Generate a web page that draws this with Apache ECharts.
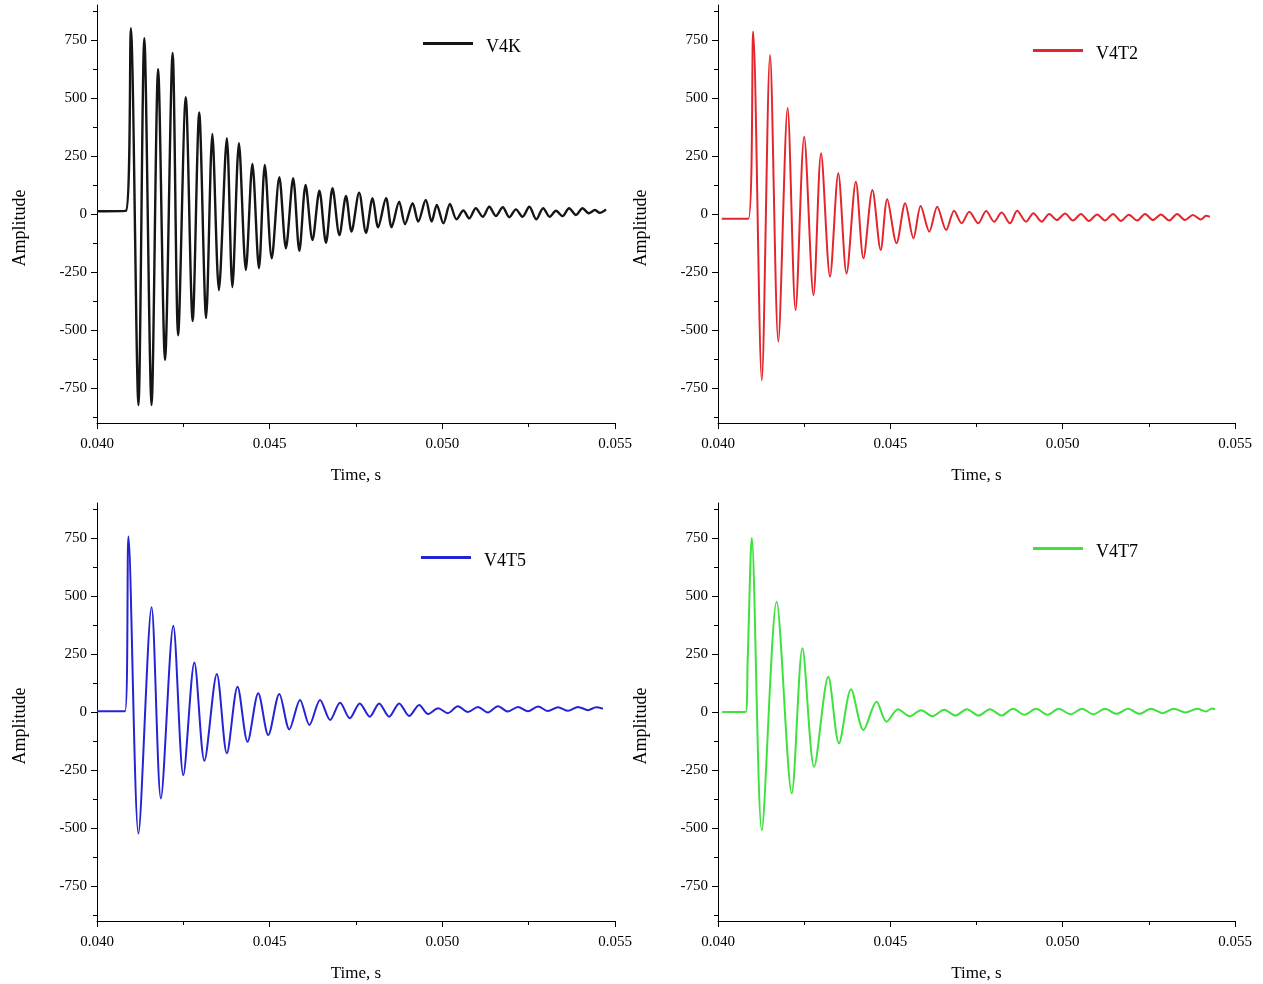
<!DOCTYPE html>
<html>
<head>
<meta charset="utf-8">
<script src="https://cdn.jsdelivr.net/npm/echarts@6/dist/echarts.min.js"></script>
<style>
html,body{margin:0;padding:0;background:#fff;}
#chart{width:1263px;height:984px;}
</style>
</head>
<body>
<div id="chart"></div>
<script>
// ---- data (time in s, amplitude) ----
const seriesNames = ['V4K', 'V4T2', 'V4T5', 'V4T7'];
const seriesColors = ['#151515', '#e4262c', '#2424d4', '#3ee23e'];

const v4kTime = [0.04000,0.04084,0.04098,0.04120,0.04137,0.04158,0.04177,0.04197,0.04219,0.04235,0.04257,0.04277,0.04296,0.04316,0.04334,0.04353,0.04376,0.04392,0.04411,0.04431,0.04450,0.04469,0.04486,0.04506,0.04528,0.04547,0.04568,0.04586,0.04604,0.04624,0.04644,0.04663,0.04682,0.04702,0.04721,0.04737,0.04759,0.04779,0.04798,0.04814,0.04837,0.04853,0.04875,0.04892,0.04914,0.04930,0.04952,0.04969,0.04984,0.05003,0.05022,0.05041,0.05061,0.05078,0.05097,0.05117,0.05136,0.05155,0.05175,0.05194,0.05213,0.05232,0.05252,0.05272,0.05292,0.05311,0.05329,0.05348,0.05367,0.05387,0.05406,0.05424,0.05442,0.05456,0.05474];
const v4kAmp = [12,14,800,-823,757,-823,624,-629,693,-522,503,-461,437,-448,345,-328,326,-315,305,-241,216,-233,211,-191,158,-148,154,-159,125,-112,100,-124,111,-91,78,-76,92,-81,68,-57,68,-57,53,-43,46,-33,60,-33,39,-40,43,-23,15,-19,25,-12,31,-9,29,-14,20,-12,31,-23,25,-12,14,-9,25,-4,25,3,17,5,20];

const v4t2Time = [0.04011,0.04088,0.04102,0.04127,0.04151,0.04175,0.04202,0.04225,0.04250,0.04277,0.04299,0.04325,0.04349,0.04373,0.04400,0.04422,0.04448,0.04472,0.04491,0.04518,0.04543,0.04567,0.04588,0.04613,0.04636,0.04662,0.04685,0.04707,0.04729,0.04755,0.04778,0.04801,0.04823,0.04847,0.04868,0.04894,0.04915,0.04939,0.04961,0.04983,0.05007,0.05030,0.05053,0.05076,0.05100,0.05123,0.05146,0.05169,0.05192,0.05216,0.05239,0.05262,0.05285,0.05309,0.05332,0.05355,0.05378,0.05401,0.05416,0.05427];
const v4t2Amp = [-20,-20,786,-716,685,-550,456,-414,333,-349,262,-270,175,-256,139,-191,103,-155,63,-126,46,-105,34,-76,31,-69,14,-40,10,-40,13,-33,6,-40,14,-33,3,-33,0,-26,2,-28,0,-30,-2,-28,0,-30,-3,-28,0,-26,-2,-28,0,-26,-4,-24,-8,-12];

const v4t5Time = [0.04000,0.04081,0.04091,0.04120,0.04158,0.04185,0.04221,0.04250,0.04282,0.04311,0.04347,0.04376,0.04407,0.04436,0.04467,0.04496,0.04528,0.04557,0.04588,0.04615,0.04646,0.04675,0.04704,0.04732,0.04761,0.04790,0.04817,0.04846,0.04875,0.04904,0.04933,0.04959,0.04988,0.05016,0.05045,0.05074,0.05103,0.05132,0.05161,0.05190,0.05219,0.05248,0.05277,0.05306,0.05335,0.05364,0.05393,0.05422,0.05445,0.05465];
const v4t5Amp = [3,3,756,-523,451,-372,371,-272,213,-210,164,-178,109,-128,81,-99,78,-75,52,-56,52,-34,40,-27,37,-20,37,-20,37,-17,30,-9,16,-5,25,0,22,-2,25,2,22,3,24,4,20,5,22,8,20,14];

const v4t7Time = [0.04012,0.04080,0.04086,0.04098,0.04127,0.04170,0.04214,0.04245,0.04279,0.04320,0.04351,0.04386,0.04422,0.04460,0.04489,0.04522,0.04556,0.04589,0.04622,0.04656,0.04689,0.04722,0.04756,0.04789,0.04823,0.04856,0.04889,0.04923,0.04956,0.04989,0.05023,0.05056,0.05089,0.05123,0.05156,0.05190,0.05223,0.05256,0.05290,0.05323,0.05356,0.05390,0.05416,0.05433,0.05442];
const v4t7Amp = [0,0,217,749,-509,475,-350,274,-236,152,-135,98,-78,44,-42,12,-18,8,-18,10,-15,12,-15,12,-15,14,-12,14,-12,14,-10,14,-10,14,-8,14,-8,14,-5,14,-2,14,2,15,12];

const xTickLabels = ['0.040', '0.045', '0.050', '0.055'];
const yTickValues = [-750, -500, -250, 0, 250, 500, 750];
const yMinorTickValues = [-875, -625, -375, -125, 125, 375, 625, 875];

const allTimes = [v4kTime, v4t2Time, v4t5Time, v4t7Time];
const allAmps = [v4kAmp, v4t2Amp, v4t5Amp, v4t7Amp];

// ---- layout ----
const FONT = "'Liberation Serif', 'Times New Roman', serif";
const gridPos = [
  {left: 97, top: 5, width: 518, height: 418},
  {left: 718, top: 5, width: 517, height: 418},
  {left: 97, top: 503, width: 518, height: 418},
  {left: 718, top: 503, width: 517, height: 418}
];
const legendPos = [
  {left: 423, top: 38},
  {left: 1033, top: 45},
  {left: 421, top: 552},
  {left: 1033, top: 543}
];
const amplitudePos = [[20, 228], [641, 228], [20, 726], [641, 726]];

const grid = [], xAxis = [], yAxis = [], series = [], legend = [], graphic = [];
for (let i = 0; i < 4; i++) {
  grid.push(Object.assign({containLabel: false}, gridPos[i]));
  xAxis.push({
    type: 'value', gridIndex: i, min: 0.040, max: 0.055, interval: 0.005,
    axisLine: {show: true, onZero: false, lineStyle: {color: '#000', width: 1}},
    axisTick: {show: true, inside: false, length: 6, lineStyle: {color: '#000'}},
    minorTick: {show: true, splitNumber: 2, length: 4, lineStyle: {color: '#000'}},
    splitLine: {show: false},
    axisLabel: {
      color: '#000', fontFamily: FONT, fontSize: 15, margin: 14,
      formatter: function (v) {
        const k = Math.round((v - 0.040) / 0.005);
        return xTickLabels[k] !== undefined ? xTickLabels[k] : '';
      }
    },
    name: 'Time, s', nameLocation: 'middle', nameGap: 44,
    nameTextStyle: {color: '#000', fontFamily: FONT, fontSize: 17}
  });
  yAxis.push({
    type: 'value', gridIndex: i, min: -900, max: 900, position: 'left',
    axisLine: {show: true, onZero: false, lineStyle: {color: '#000', width: 1}},
    axisTick: {show: true, inside: false, length: 6, customValues: yTickValues, lineStyle: {color: '#000'}},
    axisLabel: {color: '#000', fontFamily: FONT, fontSize: 15, margin: 10, customValues: yTickValues},
    splitLine: {show: false}
  });
  yAxis.push({
    type: 'value', gridIndex: i, min: -900, max: 900, position: 'left',
    axisLine: {show: false},
    axisTick: {show: true, inside: false, length: 4, customValues: yMinorTickValues, lineStyle: {color: '#000'}},
    axisLabel: {show: false},
    splitLine: {show: false}
  });
  const data = allTimes[i].map((t, j) => [t, allAmps[i][j]]);
  series.push({
    name: seriesNames[i], type: 'line', xAxisIndex: i, yAxisIndex: 2 * i,
    data: data, showSymbol: false, symbol: 'none', smooth: 0.3,
    lineStyle: {color: seriesColors[i], width: i === 0 ? 2.4 : 2},
    itemStyle: {color: seriesColors[i]},
    animation: false
  });
  legend.push({
    data: [seriesNames[i]], left: legendPos[i].left, top: legendPos[i].top,
    orient: 'horizontal', padding: 0, icon: 'rect', itemWidth: 50, itemHeight: 3,
    formatter: '{t|{name}}',
    textStyle: {
      color: '#000', fontFamily: FONT, fontSize: 18, padding: [0, 0, 0, 8],
      rich: {t: {color: '#000', fontFamily: FONT, fontSize: 18, padding: [7, 0, 0, 0]}}
    },
    selectedMode: false
  });
  graphic.push({
    type: 'text', x: amplitudePos[i][0], y: amplitudePos[i][1], rotation: Math.PI / 2,
    style: {text: 'Amplitude', fill: '#000', font: '18px ' + FONT, textAlign: 'center', textVerticalAlign: 'middle'}
  });
}

const chart = echarts.init(document.getElementById('chart'), null, {renderer: 'canvas'});
chart.setOption({
  backgroundColor: '#fff',
  animation: false,
  grid: grid, xAxis: xAxis, yAxis: yAxis, series: series, legend: legend, graphic: graphic
});
</script>
</body>
</html>
